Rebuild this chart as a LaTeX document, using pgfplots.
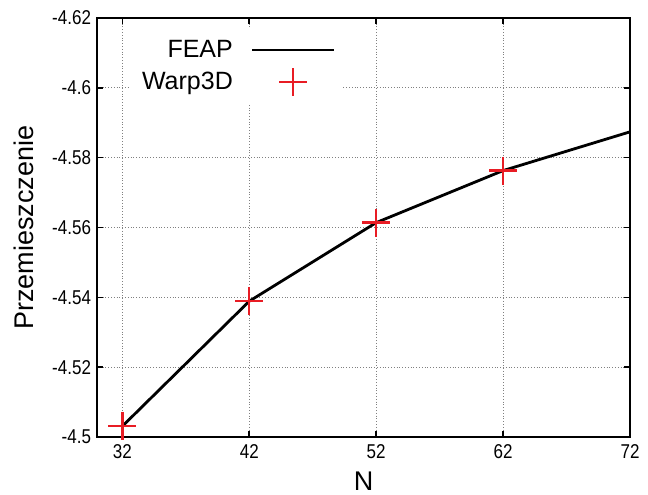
\documentclass[border=0pt]{standalone}
\usepackage{fontspec}
\setmainfont{Liberation Sans}
\usepackage{pgfplots}
\pgfplotsset{compat=1.18}
\usetikzlibrary{calc}
\definecolor{wred}{RGB}{232,28,36}
\begin{document}
\begin{tikzpicture}
\begin{axis}[
    name=ax,
    scale only axis,
    width=266.5pt,
    height=209.5pt,
    xmin=30, xmax=72,
    ymin=-4.62, ymax=-4.5,
    y dir=reverse,
    xtick={32,42,52,62,72},
    xticklabels={32,42,52,62,72},
    ytick={-4.62,-4.6,-4.58,-4.56,-4.54,-4.52,-4.5},
    yticklabels={-4.62,-4.6,-4.58,-4.56,-4.54,-4.52,-4.5},
    ticklabel style={font=\fontsize{10}{12}\selectfont, xscale=0.85},
    tick align=inside,
    major tick length=3pt,
    tick style={black, line width=0.8pt},
    axis line style={line width=1.4pt},
    grid=major,
    grid style={densely dotted, gray, line width=0.5pt},
    xlabel={N},
    ylabel={Przemieszczenie},
    label style={font=\fontsize{13.5}{16}\selectfont},
    xlabel style={yshift=0pt},
    ylabel style={yshift=3pt},
    legend style={at={(0.262,0.885)}, anchor=center, draw=none, fill=white,
        font=\fontsize{12.5}{14}\selectfont, row sep=2pt, inner sep=4pt},
    legend cell align=right,
    legend plot pos=right,
    legend image code/.code={\path (0cm,0cm);
        \draw[mark repeat=2,mark phase=2,#1] plot coordinates {(0.25cm,0cm) (0.965cm,0cm) (1.68cm,0cm)};},
]
\addplot[black, line width=1.4pt] coordinates {
    (32,-4.5031) (42,-4.5389) (52,-4.5614) (62,-4.5763) (72,-4.5874)};
\addlegendentry{FEAP}
\addplot[only marks, mark=+, mark size=7pt, wred, line width=1.2pt] coordinates {
    (32,-4.5031) (42,-4.5389) (52,-4.5614) (62,-4.5763)};
\addlegendentry{Warp3D}
\end{axis}
\pgfresetboundingbox
\path[use as bounding box] ($(ax.south west)+(-48.5pt,-28.5pt)$) rectangle ($(ax.north east)+(9pt,9pt)$);
\end{tikzpicture}
\end{document}
